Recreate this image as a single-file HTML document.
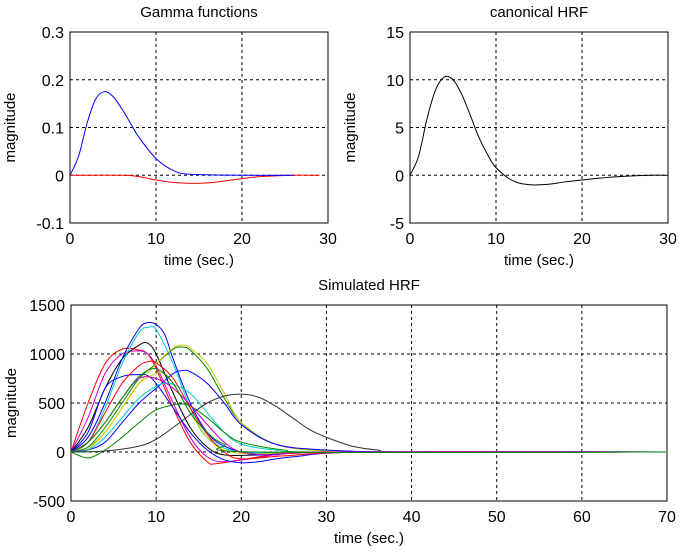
<!DOCTYPE html>
<html><head><meta charset="utf-8"><style>
body{margin:0;background:#fff;}
svg{font-family:"Liberation Sans",Arial,sans-serif;}
</style></head><body>
<svg id="s" width="680" height="553" xmlns="http://www.w3.org/2000/svg"></svg>
<script>
// ---- data ----
const gammaBlueT=[0,1,2,3,4,5,6,7,8,10,12,14,20,26];
const gammaBlueV=[0,.04,.11,.16,.175,.165,.14,.11,.08,.035,.01,.002,0,0];
const gammaRedT=[0,6,8,10,12,14,16,18,20,22,26,29];
const gammaRedV=[0,0,-.003,-.01,-.015,-.017,-.016,-.012,-.007,-.003,0,0];
const hrfT=[0,1,2,3,4,5,6,7,8,9,10,12,14,16,18,20,22,25,28,30];
const hrfV=[0,2,6,9,10.3,10,8.5,6.3,4,2.2,0.8,-0.6,-1,-0.95,-0.7,-0.5,-0.3,-0.1,0,0];
const simColors=["#f00","#c0c","#000","#00f","#0cc","#00f","#f00","#cc0","#080","#cc0","#00f","#0cc","#080","#333","#c0c","#080"];
const simT=[
[0,2,4,6,8,9,10,12,14,16,17,20,25,35,70],
[0,2,4,6,8,9,10,12,14,16,18,22,30,70],
[0,2,4,6,8,9,10,12,14,16,18,22,30,70],
[0,2,4,6,8,9,10,11,12,14,16,18,22,30,70],
[0,2,4,6,8,9,10,12,14,16,20,30,70],
[0,2,4,6,8,9,10,12,14,16,18,20,22,26,35,70],
[0,2,4,6,8,9,10,12,14,16,18,20,25,35,70],
[0,2,4,6,8,10,11,12,14,16,18,22,30,70],
[0,2,4,6,8,10,12,13,14,16,18,20,24,30,40,70],
[0,2,4,6,8,10,12,13,14,16,18,20,24,30,40,70],
[0,2,4,6,8,10,12,13,14,16,18,20,24,30,40,70],
[0,2,4,6,8,10,11,12,14,16,18,20,24,30,70],
[0,2,4,6,8,10,12,13,14,16,18,20,25,30,70],
[0,4,8,10,12,14,16,18,20,22,24,26,28,30,33,36,40,70],
[0,2,4,6,8,10,12,14,16,18,20,24,30,70],
[0,2,4,6,8,10,12,14,16,18,22,70]];
const simV=[
[0,500,900,1050,1040,1000,850,450,100,-100,-120,-80,-20,0,0],
[0,350,800,1000,1030,1000,880,500,150,-50,-100,-60,0,0],
[0,250,650,950,1090,1110,1000,600,250,50,-30,-30,0,0],
[0,150,500,950,1260,1320,1300,1200,950,500,200,60,-30,0,0],
[0,100,450,900,1220,1270,1250,900,450,150,0,0,0],
[0,200,650,770,790,780,700,450,200,20,-80,-110,-100,-50,0,0],
[0,100,400,700,880,920,910,750,450,180,0,-70,-40,0,0],
[0,50,200,450,700,800,800,700,400,150,20,-20,0,0],
[0,50,250,500,750,900,1050,1070,1040,850,550,300,80,10,0,0],
[0,30,200,450,700,900,1060,1090,1060,900,600,300,80,10,0,0],
[0,20,100,300,500,650,800,830,820,700,500,280,80,20,0,0],
[0,20,150,350,550,670,700,690,600,400,200,80,20,0,0],
[0,-60,20,150,300,430,480,490,470,350,200,100,20,0,0],
[0,10,60,130,250,380,500,570,590,560,470,350,230,150,60,20,0,0],
[0,100,300,550,750,750,650,480,280,100,0,-30,0,0],
[0,100,300,550,770,850,700,400,200,80,0,0]];

const NS="http://www.w3.org/2000/svg";
const svg=document.getElementById('s');
function el(tag,attrs,parent){const e=document.createElementNS(NS,tag);for(const k in attrs)e.setAttribute(k,attrs[k]);(parent||svg).appendChild(e);return e;}
function smooth(pts){
  let d=`M${pts[0][0]},${pts[0][1]}`;
  for(let i=0;i<pts.length-1;i++){
    const p0=pts[i-1]||pts[i],p1=pts[i],p2=pts[i+1],p3=pts[i+2]||p2;
    const c1=[p1[0]+(p2[0]-p0[0])/6,p1[1]+(p2[1]-p0[1])/6];
    const c2=[p2[0]-(p3[0]-p1[0])/6,p2[1]-(p3[1]-p1[1])/6];
    d+=` C${c1[0]},${c1[1]} ${c2[0]},${c2[1]} ${p2[0]},${p2[1]}`;
  }
  return d;
}
function axes(name,box,xr,yr,xt,yt,title){
  const g=el('g',{});
  
  
  const sx=v=>box.x+(v-xr[0])/(xr[1]-xr[0])*box.w;
  const sy=v=>box.y+box.h-(v-yr[0])/(yr[1]-yr[0])*box.h;
  xt.forEach(v=>{
    if(v>xr[0]&&v<xr[1]){const l=el('line',{x1:sx(v),x2:sx(v),y1:box.y,y2:box.y+box.h,stroke:'#000','stroke-dasharray':'3,3','stroke-width':1},g);}
    const t=el('text',{x:sx(v),y:box.y+box.h+21,'text-anchor':'middle','font-size':16},g);t.textContent=v;
    
  });
  yt.forEach(v=>{
    if(v>yr[0]&&v<yr[1]){const l=el('line',{x1:box.x,x2:box.x+box.w,y1:sy(v),y2:sy(v),stroke:'#000','stroke-dasharray':'3,3','stroke-width':1},g);}
    const t=el('text',{x:box.x-6,y:sy(v)+6,'text-anchor':'end','font-size':16},g);t.textContent=v;
    
  });
  const r=el('rect',{x:box.x,y:box.y,width:box.w,height:box.h,fill:'none',stroke:'#000','stroke-width':1},g);
  
  const tt=el('text',{x:box.x+box.w/2,y:box.y-15,'text-anchor':'middle','font-size':15},g);tt.textContent=title;
  
  const xl=el('text',{x:box.x+box.w/2,y:box.y+box.h+42,'text-anchor':'middle','font-size':15},g);xl.textContent='time (sec.)';
  
  const yx=box.x-55,yy=box.y+box.h/2;
  const yl=el('text',{x:yx,y:yy,'text-anchor':'middle','font-size':15,transform:`rotate(-90 ${yx} ${yy})`},g);yl.textContent='magnitude';
  
  return {g,sx,sy};
}
function series(ax,T,V,color,name){
  const pts=T.map((t,i)=>[ax.sx(t),ax.sy(V[i])]);
  const p=el('path',{d:smooth(pts),fill:'none',stroke:color,'stroke-width':1},ax.g);
  
  
}
const a1=axes('gamma-functions-chart',{x:70,y:32,w:258,h:191},[0,30],[-0.1,0.3],[0,10,20,30],[-0.1,0,0.1,0.2,0.3],'Gamma functions');
series(a1,gammaRedT,gammaRedV,'#f00','gamma-red-line');
series(a1,gammaBlueT,gammaBlueV,'#00f','gamma-blue-line');
const a2=axes('canonical-hrf-chart',{x:410,y:32,w:258,h:191},[0,30],[-5,15],[0,10,20,30],[-5,0,5,10,15],'canonical HRF');
series(a2,hrfT,hrfV,'#000','hrf-line');
const a3=axes('simulated-hrf-chart',{x:71,y:305,w:596,h:196},[0,70],[-500,1500],[0,10,20,30,40,50,60,70],[-500,0,500,1000,1500],'Simulated HRF');
simT.forEach((T,i)=>series(a3,T,simV[i],simColors[i],'simulated-hrf-line-'+(i+1)));
</script>
</body></html>
